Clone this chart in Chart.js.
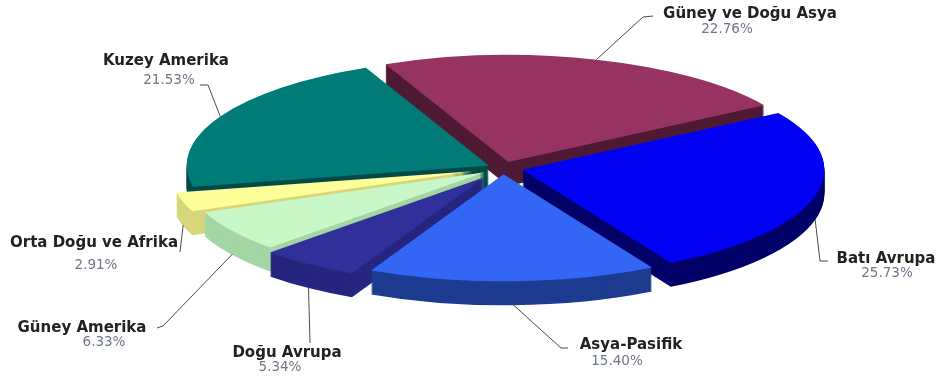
<!DOCTYPE html>
<html>
<head>
<meta charset="utf-8">
<script src="https://cdn.jsdelivr.net/npm/chart.js@4/dist/chart.umd.min.js"></script>
<style>
  html, body { margin: 0; padding: 0; background: #ffffff; }
  canvas { display: block; }
</style>
</head>
<body>
<canvas id="pie" width="941" height="379"></canvas>
<script>
// Regional shares, clockwise from the top slice
const regions = ['Güney ve Doğu Asya', 'Batı Avrupa', 'Asya-Pasifik', 'Doğu Avrupa',
                 'Güney Amerika', 'Orta Doğu ve Afrika', 'Kuzey Amerika'];
const shares = [22.76, 25.73, 15.40, 5.34, 6.33, 2.91, 21.53];

// Face and side colours of each slice
const topColors  = ['#973362', '#0000f4', '#3366f5', '#30309a', '#c8f7c8', '#ffff99', '#007b78'];
const sideColors = ['#4f1a34', '#000068', '#1d3c90', '#262680', '#a4d6a4', '#d6d67a', '#004a48'];

// How far each slice is pulled out of the pie (px, before tilting)
const explode = [18, 20, 18, 32, 22, 32, 16];

const DEPTH = 24;      // thickness of the disc on screen
const TILT = 0.354;    // vertical squash of the disc
const RADIUS = 302;

// Label layout per slice: leader elbow, leader end, name centre, percent centre
const labelLayout = [
  { elbow: [643, 17],  end: [653, 16],  name: [750, 14],  pct: [727, 29] },
  { elbow: [820, 261], end: [828, 261], name: [886, 259], pct: [887, 273] },
  { elbow: [561, 348], end: [568, 348], name: [631, 345], pct: [617, 361] },
  { elbow: [310, 343], end: [310, 343], name: [287, 353], pct: [280, 367] },
  { elbow: [163, 326], end: [157, 328], name: [82, 328],  pct: [104, 342] },
  { elbow: [180, 252], end: [180, 252], name: [94, 243],  pct: [96, 265] },
  { elbow: [208, 85],  end: [200, 85],  name: [166, 61],  pct: [169, 80] }
];

function tilt(ctx, cy) {
  ctx.translate(0, cy);
  ctx.scale(1, TILT);
  ctx.translate(0, -cy);
}

const pie3d = {
  id: 'pie3d',
  afterDatasetsUpdate(chart) {
    chart.getDatasetMeta(0).data.forEach((arc, i) => {
      const mid = (arc.startAngle + arc.endAngle) / 2;
      arc.x += Math.cos(mid) * explode[i];
      arc.y += Math.sin(mid) * explode[i];
    });
  },
  beforeDatasetsDraw(chart) {
    const ctx = chart.ctx;
    const arcs = chart.getDatasetMeta(0).data;
    const cy = (chart.chartArea.top + chart.chartArea.bottom) / 2;
    // stack darker copies of every slice to build the disc sides
    for (let d = DEPTH; d >= 1; d--) {
      ctx.save();
      ctx.translate(0, d);
      tilt(ctx, cy);
      arcs.forEach((arc, i) => {
        const own = arc.options;
        arc.options = Object.assign({}, own, { backgroundColor: sideColors[i], borderWidth: 0 });
        arc.draw(ctx);
        arc.options = own;
      });
      ctx.restore();
    }
    // top faces are drawn by the chart inside this tilted frame
    ctx.save();
    tilt(ctx, cy);
  },
  afterDatasetsDraw(chart) {
    chart.ctx.restore();
  },
  afterDraw(chart) {
    const ctx = chart.ctx;
    const arcs = chart.getDatasetMeta(0).data;
    const cy = (chart.chartArea.top + chart.chartArea.bottom) / 2;
    ctx.save();
    arcs.forEach((arc, i) => {
      const lay = labelLayout[i];
      const mid = (arc.startAngle + arc.endAngle) / 2;
      const ax = arc.x + Math.cos(mid) * arc.outerRadius;
      let ay = cy + (arc.y + Math.sin(mid) * arc.outerRadius - cy) * TILT;
      if (Math.sin(mid) > 0) ay += DEPTH - 1;
      ctx.strokeStyle = '#4a4a4a';
      ctx.lineWidth = 1;
      ctx.beginPath();
      ctx.moveTo(ax, ay);
      ctx.lineTo(lay.elbow[0], lay.elbow[1]);
      ctx.lineTo(lay.end[0], lay.end[1]);
      ctx.stroke();

      ctx.textAlign = 'center';
      ctx.textBaseline = 'middle';
      ctx.fillStyle = '#222222';
      ctx.font = 'bold 15px "DejaVu Sans", sans-serif';
      ctx.fillText(regions[i], lay.name[0], lay.name[1]);
      ctx.fillStyle = '#6e7687';
      ctx.font = '13.5px "DejaVu Sans", sans-serif';
      ctx.fillText(shares[i].toFixed(2) + '%', lay.pct[0], lay.pct[1]);
    });
    ctx.restore();
  }
};

new Chart(document.getElementById('pie'), {
  type: 'pie',
  data: {
    labels: regions,
    datasets: [{
      data: shares,
      backgroundColor: topColors,
      borderWidth: 0,
      radius: RADIUS,
      clip: false
    }]
  },
  options: {
    responsive: false,
    animation: false,
    events: [],
    rotation: -24,
    layout: { padding: { left: 65, right: 0, top: 0, bottom: 43 } },
    plugins: {
      legend: { display: false },
      tooltip: { enabled: false }
    }
  },
  plugins: [pie3d]
});
</script>
</body>
</html>
